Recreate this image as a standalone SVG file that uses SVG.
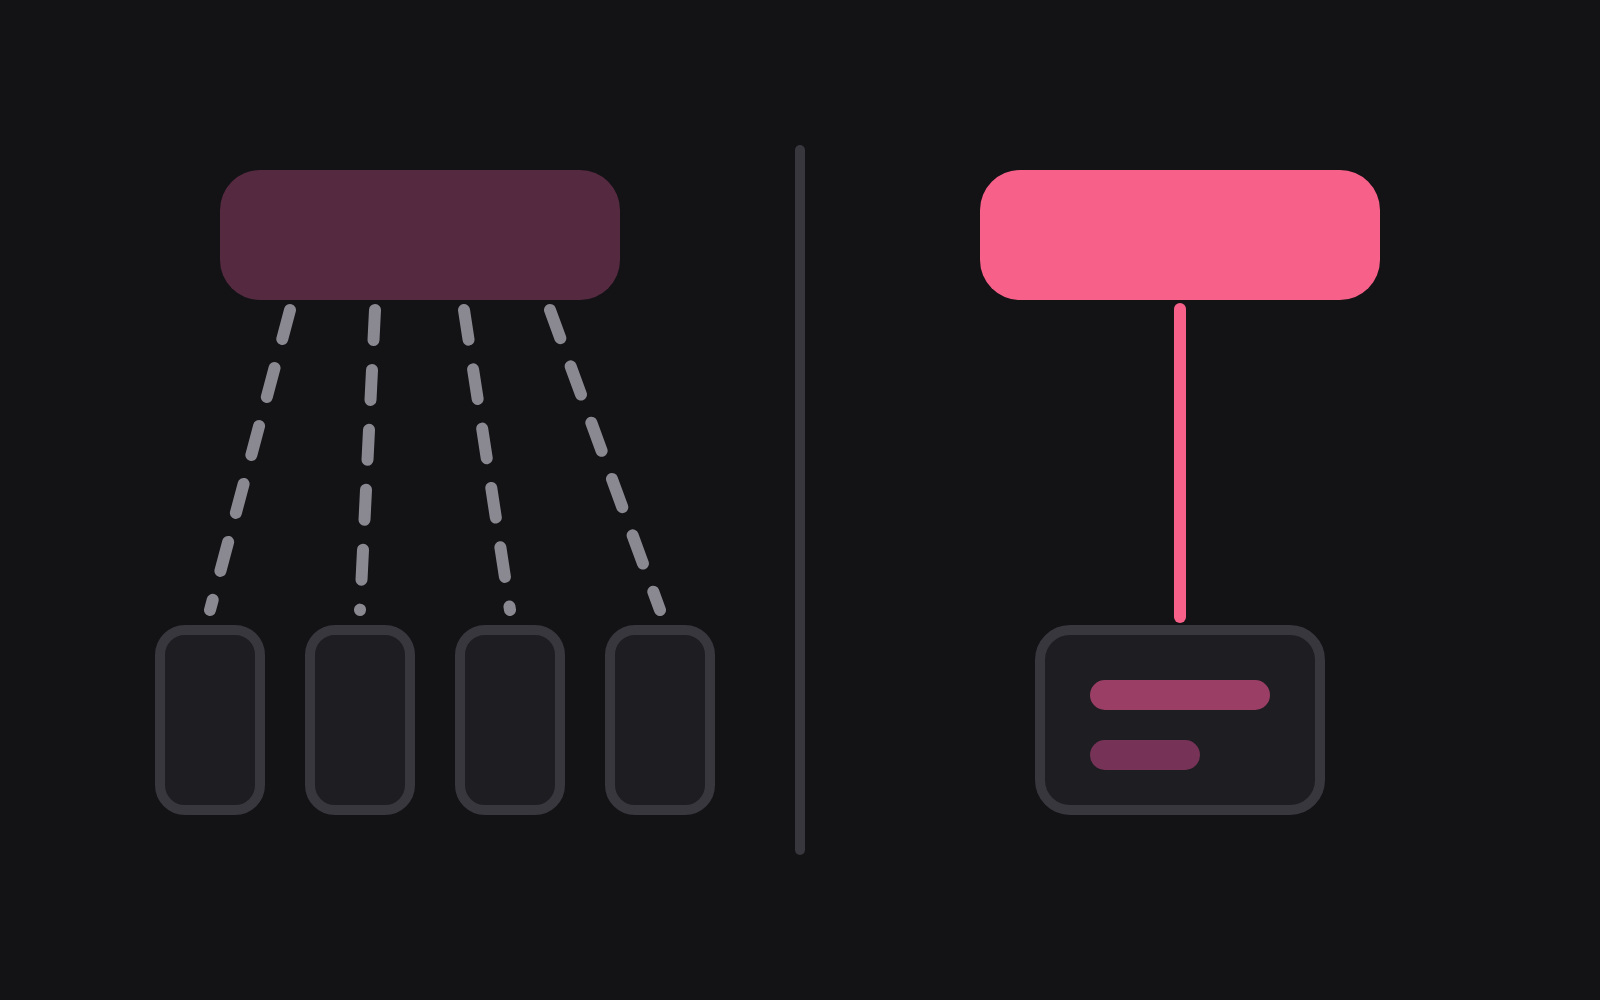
<svg xmlns="http://www.w3.org/2000/svg" width="1600" height="1000" viewBox="0 0 1600 1000">
  <style>
    .child { fill: #1e1d22; stroke: #38373d; stroke-width: 10; }
    .dash { stroke: #8a8991; stroke-width: 12; stroke-linecap: round; stroke-dasharray: 30 30; fill: none; }
  </style>
  <rect x="0" y="0" width="1600" height="1000" fill="#131316"/>
  <g id="divider">
    <line x1="800" y1="150" x2="800" y2="850" stroke="#38373d" stroke-width="10" stroke-linecap="round"/>
  </g>
  <g id="connectors">
    <line class="dash" x1="290" y1="310" x2="210" y2="610"/>
    <line class="dash" x1="375" y1="310" x2="360" y2="610"/>
    <line class="dash" x1="464" y1="310" x2="510" y2="610"/>
    <line class="dash" x1="550" y1="310" x2="660" y2="610"/>
    <line x1="1180" y1="309" x2="1180" y2="617" stroke="#f76189" stroke-width="12" stroke-linecap="round"/>
  </g>
  <g id="left-parent">
    <rect x="220" y="170" width="400" height="130" rx="40" fill="#552a40"/>
  </g>
  <g id="child-1"><rect class="child" x="160" y="630" width="100" height="180" rx="25"/></g>
  <g id="child-2"><rect class="child" x="310" y="630" width="100" height="180" rx="25"/></g>
  <g id="child-3"><rect class="child" x="460" y="630" width="100" height="180" rx="25"/></g>
  <g id="child-4"><rect class="child" x="610" y="630" width="100" height="180" rx="25"/></g>
  <g id="right-parent">
    <rect x="980" y="170" width="400" height="130" rx="40" fill="#f76189"/>
  </g>
  <g id="right-card">
    <rect class="child" x="1040" y="630" width="280" height="180" rx="30"/>
    <rect x="1090" y="680" width="180" height="30" rx="15" fill="#9b3e66"/>
    <rect x="1090" y="740" width="110" height="30" rx="15" fill="#773357"/>
  </g>
</svg>
